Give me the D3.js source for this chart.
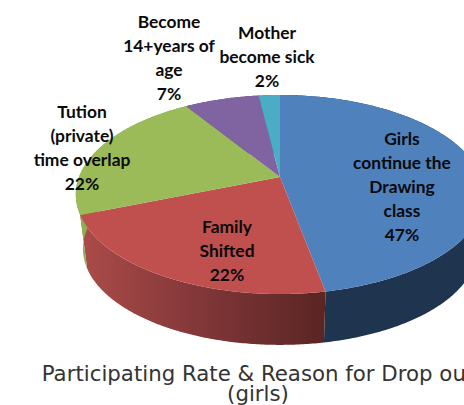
<!DOCTYPE html>
<html>
<head>
<meta charset="utf-8">
<script src="https://cdn.jsdelivr.net/npm/d3@7"></script>
<style>
html, body { margin: 0; padding: 0; background: #fff; overflow: hidden; }
svg { display: block; }
.lbl { font-family: Lato, sans-serif; font-weight: 700; font-size: 17.4px; fill: #0a0a0a; text-anchor: middle; }
.ttl { font-family: "DejaVu Sans", sans-serif; font-size: 21.3px; fill: #333; text-anchor: middle; }
</style>
</head>
<body>
<svg id="chart" width="464" height="405"></svg>
<script>
// values, clockwise from 12 o'clock
const categories = ["Girls continue the Drawing class", "Family Shifted", "Tution (private) time overlap", "Become 14+years of age", "Mother become sick"];
const percents = [47, 22, 22, 7, 2];
const topColors = ["#4f81bd", "#c0504d", "#9bbb59", "#8064a2", "#4bacc6"];
const labelLines = [
    ["Girls", "continue the", "Drawing", "class"],
    ["Family", "Shifted"],
    ["Tution", "(private)", "time overlap"],
    ["Become", "14+years of", "age"],
    ["Mother", "become sick"]
];
const titleLines = ["Participating Rate & Reason for Drop out", "(girls)"];

let svg = d3.select("#chart");

/* pie tilted in perspective, apex is not at the middle of the ellipse */
let cx = 280, cy = 177, rx = 201, ry = 96.4, tilt = 0.176, depth = 55, lowerScale = 0.965;

function project(angle, lower) {
    let u = Math.sin(angle), v = -Math.cos(angle);
    let k = 1 / (1 - tilt * v);
    let x = rx * u * k, y = ry * v * k;
    if (lower) return [cx + x * lowerScale, cy + y * lowerScale + depth];
    return [cx + x, cy + y];
}

let pie = d3.pie().sort(null).value(d => d)(percents);
let line = d3.line();

function rim(a0, a1, lower) {
    let n = Math.max(2, Math.ceil((a1 - a0) / 0.01));
    return d3.range(n + 1).map(i => project(a0 + (a1 - a0) * i / n, lower));
}

/* wall shading runs left to right */
let defs = svg.append("defs");
let wallStops = [
    [["0%", "#1f344f"], ["100%", "#1f344f"]],
    [["0%", "#ab4c49"], ["45%", "#85383a"], ["100%", "#592523"]],
    [["0%", "#8fae50"], ["100%", "#8fae50"]],
    [["0%", "#5c4876"], ["100%", "#5c4876"]],
    [["0%", "#2f7a8f"], ["100%", "#2f7a8f"]]
];
pie.forEach(function (d, i) {
    let pts = rim(d.startAngle, d.endAngle, false);
    let g = defs.append("linearGradient")
        .attr("id", "wall" + i)
        .attr("gradientUnits", "userSpaceOnUse")
        .attr("x1", d3.min(pts, p => p[0])).attr("x2", d3.max(pts, p => p[0]))
        .attr("y1", 0).attr("y2", 0);
    wallStops[i].forEach(s => g.append("stop").attr("offset", s[0]).attr("stop-color", s[1]));
});

svg.append("g").selectAll("path")
    .data(pie)
    .enter()
    .append("path")
    .attr("d", d => line(rim(d.startAngle, d.endAngle, false).concat(rim(d.startAngle, d.endAngle, true).reverse())) + "Z")
    .attr("fill", (d, i) => "url(#wall" + i + ")");

svg.append("g").selectAll("path")
    .data(pie)
    .enter()
    .append("path")
    .attr("d", d => line([[cx, cy]].concat(rim(d.startAngle, d.endAngle, false))) + "Z")
    .attr("fill", (d, i) => topColors[i]);

/* data labels, x and first baseline per slice */
let labelPos = [[402, 145], [227, 233], [82, 118], [169, 28], [267, 39]];
let lineGap = 24;
pie.forEach(function (d, i) {
    let rows = labelLines[i].concat([d.value + "%"]);
    svg.append("g").selectAll("text")
        .data(rows)
        .enter()
        .append("text")
        .attr("class", "lbl")
        .attr("x", labelPos[i][0])
        .attr("y", (r, j) => labelPos[i][1] + j * lineGap)
        .text(r => r);
});

svg.selectAll("text.ttl")
    .data(titleLines)
    .enter()
    .append("text")
    .attr("class", "ttl")
    .attr("x", 258)
    .attr("y", (r, j) => 381 + j * 20)
    .text(r => r);
</script>
</body>
</html>
